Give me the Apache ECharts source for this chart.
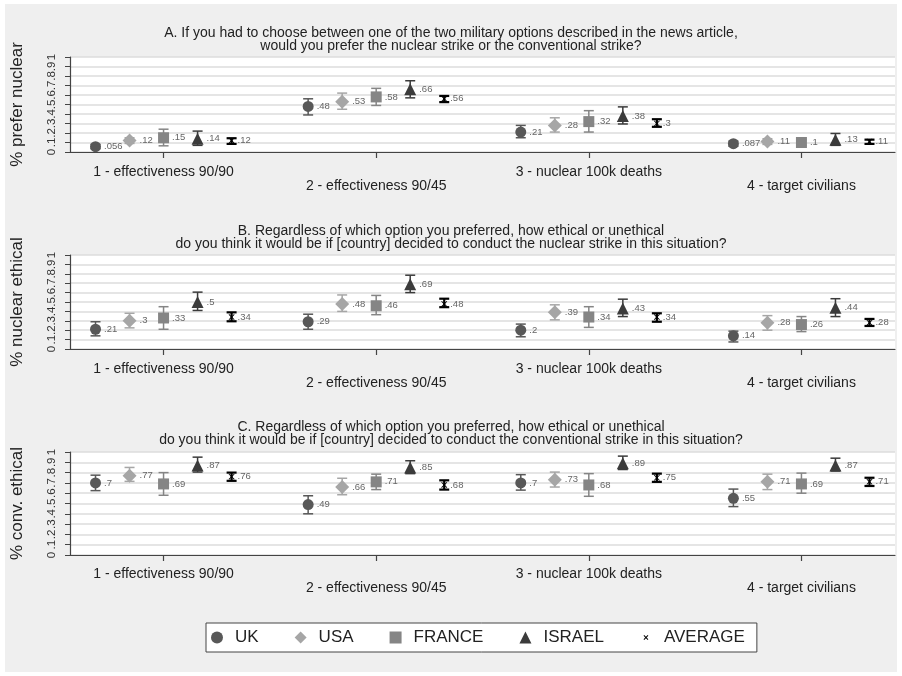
<!DOCTYPE html>
<html>
<head>
<meta charset="utf-8">
<script src="https://cdn.jsdelivr.net/npm/echarts@6/dist/echarts.min.js"></script>
<style>
  html, body { margin: 0; padding: 0; background: #ffffff; }
  #frame { position: absolute; left: 5px; top: 4px; width: 892px; height: 668px; background: #efefef; }
  #chart { position: absolute; left: 0; top: 0; width: 902px; height: 676px; }
</style>
</head>
<body>
<div id="frame"></div>
<div id="chart"></div>
<script>
// ---- data ---------------------------------------------------------------
const categories = ['1 - effectiveness 90/90', '2 - effectiveness 90/45', '3 - nuclear 100k deaths', '4 - target civilians'];
const countries = ['UK', 'USA', 'FRANCE', 'ISRAEL', 'AVERAGE'];
const yTickLabels = ['0', '.1', '.2', '.3', '.4', '.5', '.6', '.7', '.8', '.9', '1'];

const panelTitles = [
  'A. If you had to choose between one of the two military options described in the news article,\nwould you prefer the nuclear strike or the conventional strike?',
  'B. Regardless of which option you preferred, how ethical or unethical\ndo you think it would be if [country] decided to conduct the nuclear strike in this situation?',
  'C. Regardless of which option you preferred, how ethical or unethical\ndo you think it would be if [country] decided to conduct the conventional strike in this situation?'
];
const panelYNames = ['% prefer nuclear', '% nuclear ethical', '% conv. ethical'];

// rows follow `countries`, columns follow `categories`
const preferNuclear = [
  [0.056, 0.48, 0.21, 0.087],
  [0.12, 0.53, 0.28, 0.11],
  [0.15, 0.58, 0.32, 0.1],
  [0.14, 0.66, 0.38, 0.13],
  [0.12, 0.56, 0.3, 0.11]
];
const preferNuclearLow = [
  [0.035, 0.39, 0.15, 0.06],
  [0.09, 0.45, 0.21, 0.08],
  [0.065, 0.49, 0.21, 0.07],
  [0.07, 0.57, 0.295, 0.07],
  [0.085, 0.525, 0.265, 0.085]
];
const preferNuclearHigh = [
  [0.08, 0.56, 0.28, 0.115],
  [0.15, 0.62, 0.36, 0.14],
  [0.24, 0.67, 0.435, 0.13],
  [0.22, 0.75, 0.475, 0.195],
  [0.145, 0.59, 0.345, 0.13]
];

const nuclearEthical = [
  [0.21, 0.29, 0.2, 0.14],
  [0.3, 0.48, 0.39, 0.28],
  [0.33, 0.46, 0.34, 0.26],
  [0.5, 0.69, 0.43, 0.44],
  [0.34, 0.48, 0.34, 0.28]
];
const nuclearEthicalLow = [
  [0.14, 0.21, 0.13, 0.075],
  [0.225, 0.4, 0.31, 0.2],
  [0.21, 0.365, 0.23, 0.185],
  [0.41, 0.6, 0.345, 0.345],
  [0.295, 0.445, 0.29, 0.245]
];
const nuclearEthicalHigh = [
  [0.29, 0.37, 0.265, 0.19],
  [0.38, 0.575, 0.47, 0.355],
  [0.45, 0.57, 0.45, 0.345],
  [0.605, 0.785, 0.53, 0.535],
  [0.39, 0.535, 0.38, 0.32]
];

const convEthical = [
  [0.7, 0.49, 0.7, 0.55],
  [0.77, 0.66, 0.73, 0.71],
  [0.69, 0.71, 0.68, 0.69],
  [0.87, 0.85, 0.89, 0.87],
  [0.76, 0.68, 0.75, 0.71]
];
const convEthicalLow = [
  [0.625, 0.4, 0.63, 0.47],
  [0.715, 0.585, 0.66, 0.635],
  [0.58, 0.635, 0.57, 0.6],
  [0.805, 0.79, 0.83, 0.815],
  [0.72, 0.635, 0.71, 0.67]
];
const convEthicalHigh = [
  [0.775, 0.575, 0.78, 0.64],
  [0.85, 0.745, 0.805, 0.785],
  [0.8, 0.785, 0.79, 0.795],
  [0.95, 0.915, 0.96, 0.94],
  [0.8, 0.725, 0.79, 0.75]
];

// ---- layout & styling -----------------------------------------------------
const FONT = '"Liberation Sans", Arial, Helvetica, sans-serif';
const xOffsets = [-0.32, -0.16, 0, 0.16, 0.32];
const crossPath = 'path://M0,0M14,14M4.2,5L5,4.2L7,6.2L9,4.2L9.8,5L7.8,7L9.8,9L9,9.8L7,7.8L5,9.8L4.2,9L6.2,7Z';
const markerStyles = [
  { symbol: 'circle',   size: 11, color: '#585858', barWidth: 1.5 },
  { symbol: 'diamond',  size: 14, color: '#a6a6a6', barWidth: 1.5 },
  { symbol: 'rect',     size: 11, color: '#858585', barWidth: 1.5 },
  { symbol: 'triangle', size: 12, color: '#3b3b3b', barWidth: 1.5 },
  { symbol: 'path://M1,0L5,4L9,0L10,1L6,5L10,9L9,10L5,6L1,10L0,9L4,5L0,1Z', size: 6, color: '#000000', barWidth: 2.2 }
];
const panels = [
  { values: preferNuclear, low: preferNuclearLow, high: preferNuclearHigh, top: 57, height: 95, titleTop: 26, labelMargin: 13 },
  { values: nuclearEthical, low: nuclearEthicalLow, high: nuclearEthicalHigh, top: 255, height: 94, titleTop: 224, labelMargin: 13 },
  { values: convEthical, low: convEthicalLow, high: convEthicalHigh, top: 452, height: 103, titleTop: 420, labelMargin: 12 }
];

const fmtValue = v => String(v).replace(/^0(?=\.)/, '');

function errorBarRenderer(color, lineWidth, capHalf) {
  return function (params, api) {
    const x = api.value(0);
    const pLo = api.coord([x, api.value(1)]);
    const pHi = api.coord([x, api.value(2)]);
    const style = { stroke: color, lineWidth: lineWidth, fill: null };
    return {
      type: 'group',
      children: [
        { type: 'line', shape: { x1: pLo[0], y1: pLo[1], x2: pHi[0], y2: pHi[1] }, style: style },
        { type: 'line', shape: { x1: pLo[0] - capHalf, y1: pLo[1], x2: pLo[0] + capHalf, y2: pLo[1] }, style: style },
        { type: 'line', shape: { x1: pHi[0] - capHalf, y1: pHi[1], x2: pHi[0] + capHalf, y2: pHi[1] }, style: style }
      ]
    };
  };
}

const grids = [], xAxes = [], yAxes = [], titles = [], series = [];

panels.forEach((p, pi) => {
  grids.push({
    left: 70, right: 7, top: p.top, height: p.height,
    show: true, backgroundColor: '#ffffff', borderWidth: 0,
    containLabel: false, outerBoundsMode: 'none'
  });
  titles.push({
    text: panelTitles[pi], left: 'center', top: p.titleTop, padding: [0, 11, 0, 5],
    textStyle: { fontFamily: FONT, fontSize: 14, fontWeight: 'normal', color: '#222', lineHeight: 13.5 }
  });
  xAxes.push({
    gridIndex: pi, type: 'value', min: 0.56, max: 4.44,
    axisLine: { show: true, lineStyle: { color: '#444', width: 1.2 } },
    axisTick: { show: true, customValues: [1, 2, 3, 4], length: 6, lineStyle: { color: '#444', width: 1.2 } },
    axisLabel: {
      show: true, customValues: [1, 2, 3, 4], margin: p.labelMargin,
      fontFamily: FONT, fontSize: 14, color: '#222', lineHeight: 14,
      formatter: v => {
        const i = Math.round(v) - 1;
        return i % 2 === 1 ? '\n' + categories[i] : categories[i];
      }
    },
    splitLine: { show: false }
  });
  yAxes.push({
    gridIndex: pi, type: 'value', min: 0, max: 1, interval: 0.1,
    name: panelYNames[pi], nameLocation: 'middle', nameGap: 44,
    nameTextStyle: { fontFamily: FONT, fontSize: 17, color: '#222' },
    axisLine: { show: true, lineStyle: { color: '#444', width: 1.2 } },
    axisTick: { show: true, length: 5, lineStyle: { color: '#444', width: 1 } },
    axisLabel: {
      rotate: 90, margin: 12, fontFamily: FONT, fontSize: 11.5, color: '#333',
      formatter: v => yTickLabels[Math.round(v * 10)]
    },
    splitLine: { show: true, lineStyle: { color: '#dcdcdc', width: 1.5 } }
  });

  countries.forEach((name, ci) => {
    const st = markerStyles[ci];
    const off = xOffsets[ci];
    series.push({
      type: 'custom', name: name + ' interval', xAxisIndex: pi, yAxisIndex: pi, z: 2,
      renderItem: errorBarRenderer(st.color, st.barWidth, 5),
      encode: { x: 0, y: [1, 2] },
      data: categories.map((c, j) => [j + 1 + off, p.low[ci][j], p.high[ci][j]]),
      silent: true
    });
    series.push({
      type: 'scatter', name: name, xAxisIndex: pi, yAxisIndex: pi, z: 3,
      symbol: st.symbol, symbolSize: st.size,
      itemStyle: { color: st.color, opacity: 1 },
      label: {
        show: true, position: 'right', distance: 3,
        fontFamily: FONT, fontSize: 9.5, color: '#666',
        formatter: params => fmtValue(params.value[1])
      },
      data: categories.map((c, j) => [j + 1 + off, p.values[ci][j]])
    });
  });
});

const chart = echarts.init(document.getElementById('chart'), null, { renderer: 'canvas' });
chart.setOption({
  backgroundColor: 'transparent',
  animation: false,
  title: titles,
  grid: grids,
  xAxis: xAxes,
  yAxis: yAxes,
  legend: {
    data: countries.map((n, i) => i === 4 ? { name: n, icon: crossPath } : { name: n }),
    left: 206, top: 623, orient: 'horizontal',
    itemWidth: 12, itemHeight: 12, itemGap: 36,
    padding: [6, 12, 6, 5],
    backgroundColor: '#ffffff', borderColor: '#444', borderWidth: 1,
    selectedMode: false,
    textStyle: { fontFamily: FONT, fontSize: 17, color: '#222', padding: [0, 0, 0, 7] }
  },
  series: series
});
</script>
</body>
</html>
